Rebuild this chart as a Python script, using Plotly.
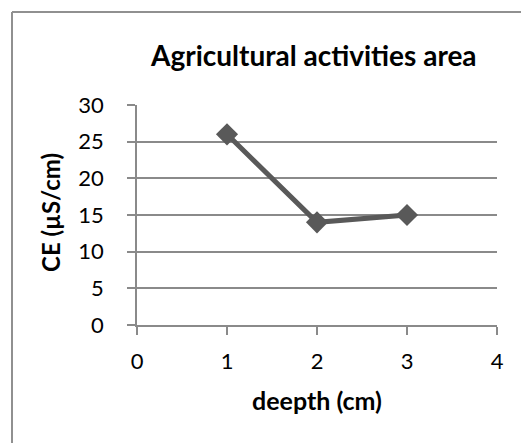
import plotly.graph_objects as go

depth = [1, 2, 3]
ce = [26, 14, 15]
x_ticks = [0, 1, 2, 3, 4]
y_ticks = [0, 5, 10, 15, 20, 25, 30]

W, H = 521, 443
L, R, T, B = 137, 24, 105, 118
pw, ph = W - L - R, H - T - B

FONT = "Lato"
GRID = "#8a8a8a"

fig = go.Figure()
fig.add_trace(go.Scatter(
    x=depth, y=ce, mode="lines+markers",
    line=dict(color="#595959", width=5),
    marker=dict(symbol="diamond", size=17, color="#595959"),
    showlegend=False,
))

def px_x(p):
    return (p - L) / pw

def px_y(p):
    return (H - B - p) / ph

fig.update_layout(
    width=W, height=H,
    margin=dict(l=L, r=R, t=T, b=B),
    paper_bgcolor="white", plot_bgcolor="white",
    font=dict(family=FONT, size=22, color="black"),
    xaxis=dict(range=[0, 4], tickvals=x_ticks, showgrid=False, zeroline=False,
               showline=True, linecolor=GRID, linewidth=1.5,
               ticks="outside", ticklen=8, tickcolor=GRID, tickwidth=1.5,
               ticklabelstandoff=8),
    yaxis=dict(range=[0, 30], tickvals=y_ticks, showgrid=True, gridcolor=GRID, gridwidth=1.5,
               zeroline=False, showline=True, linecolor=GRID, linewidth=1.5,
               ticks="outside", ticklen=8, tickcolor=GRID, tickwidth=1.5,
               ticklabelstandoff=19),
    shapes=[
        dict(type="line", xref="paper", yref="paper", x0=px_x(12), x1=px_x(12),
             y0=px_y(12), y1=px_y(H + 5), line=dict(color="#909090", width=2)),
        dict(type="line", xref="paper", yref="paper", x0=px_x(12), x1=px_x(W + 5),
             y0=px_y(12), y1=px_y(12), line=dict(color="#909090", width=2)),
    ],
    annotations=[
        dict(text="<b>Agricultural activities area</b>", xref="paper", yref="paper",
             x=px_x(313), y=px_y(55), xanchor="center", yanchor="middle",
             showarrow=False, font=dict(family=FONT, size=28, color="black")),
        dict(text="<b>deepth (cm)</b>", xref="paper", yref="paper",
             x=px_x(317), y=px_y(400), xanchor="center", yanchor="middle",
             showarrow=False, font=dict(family=FONT, size=25, color="black")),
        dict(text="<b>CE (µS/cm)</b>", xref="paper", yref="paper", textangle=-90,
             x=px_x(50), y=px_y(213), xanchor="center", yanchor="middle",
             showarrow=False, font=dict(family=FONT, size=24, color="black")),
    ],
)

fig.write_html("out.html")
